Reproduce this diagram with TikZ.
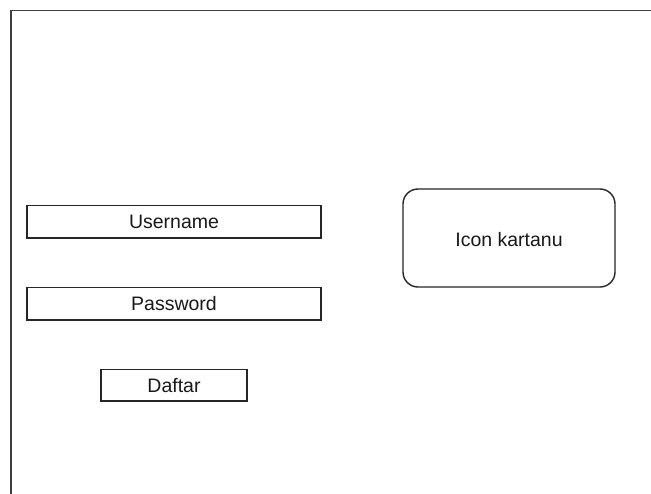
\documentclass[tikz,border=0pt]{standalone}
\usepackage{fontspec}
\setmainfont{Liberation Sans}
\begin{document}
\begin{tikzpicture}[x=1pt,y=-1pt,
  frame/.style={draw=black!75,line width=1.6pt},
  field/.style={draw=black!85,line width=1.4pt,fill=white},
  lbl/.style={font=\fontsize{19.5}{22}\selectfont,text=black!90,inner sep=0pt}]
\useasboundingbox (0,0) rectangle (651,493);
\fill[white] (0,0) rectangle (651,493);
\draw[frame] (11,500) -- (11,10.5) -- (660,10.5);
\draw[field] (27,205.5) rectangle (321,238);
\node[lbl] (user) at (174,222) {Username};
\draw[field] (27,287.5) rectangle (321,320);
\node[lbl] (pass) at (174,304) {Password};
\draw[field] (101,369.5) rectangle (247,401);
\node[lbl] (daftar) at (174,385.5) {Daftar};
\draw[field,rounded corners=15pt] (403,189) rectangle (615,287);
\node[lbl] (icon) at (509,240) {Icon kartanu};
\end{tikzpicture}
\end{document}
